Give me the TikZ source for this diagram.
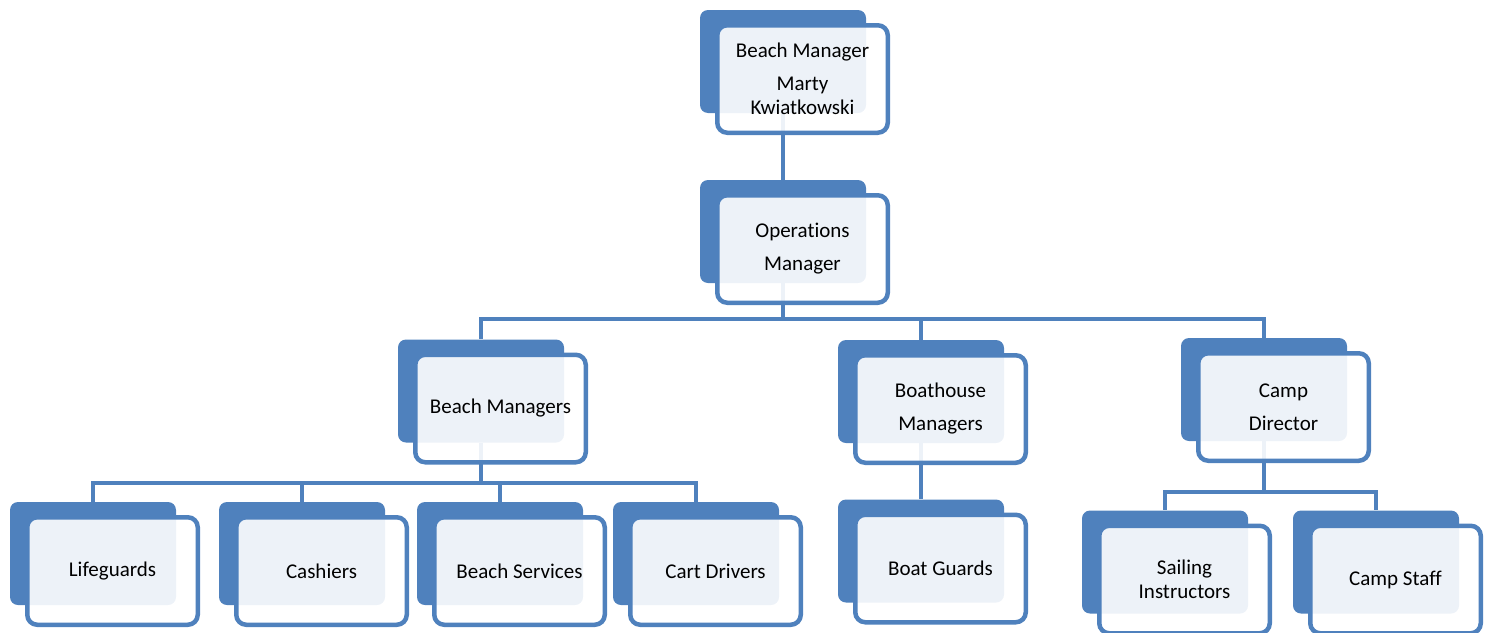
\documentclass[tikz,border=0pt]{standalone}
\usepackage{fontspec}
\setmainfont{Carlito}[Ligatures = NoCommon]
\definecolor{chartBlue}{HTML}{4F81BD}
\tikzstyle{backBox}=[shape = rectangle, rounded corners = 8pt, minimum width = 166pt, minimum height = 103pt, inner sep = 0pt, fill = chartBlue]
\tikzstyle{frontBox}=[shape = rectangle, rounded corners = 10pt, minimum width = 170.5pt, minimum height = 107.5pt, inner sep = 0pt, draw = chartBlue, line width = 4.5pt, fill = white, fill opacity = 0.9, text opacity = 1, align = center, font = \fontsize{21}{24}\selectfont, xshift = 19.5pt, yshift = -17.5pt]

\begin{document}
\begin{tikzpicture}[x = 1pt, y = -1pt]
\tikzstyle{orgLink}=[draw = chartBlue, line width = 4.5pt]
\useasboundingbox (0,0) rectangle (1485,632);
\node[backBox] (v0) at (783, 61.5) {};
\node[backBox] (v1) at (783, 231.5) {};
\node[backBox] (v2) at (481, 391) {};
\node[backBox] (v3) at (921, 391.5) {};
\node[backBox] (v4) at (1264, 389.5) {};
\node[backBox] (v5) at (93, 553.5) {};
\node[backBox] (v6) at (302, 553.5) {};
\node[backBox] (v7) at (500, 553.5) {};
\node[backBox] (v8) at (696, 553.5) {};
\node[backBox] (v9) at (921, 551) {};
\node[backBox] (v10) at (1165, 562) {};
\node[backBox] (v11) at (1376, 562) {};
\coordinate (b1) at (0, 319);
\coordinate (b2) at (0, 483);
\coordinate (b3) at (0, 492);
\draw[orgLink] (v0.south) -- (v1.north);
\draw[orgLink] (v1.south) -- (v1 |- b1) -| (v2.north);
\draw[orgLink] (v1 |- b1) -| (v3.north);
\draw[orgLink] (v1 |- b1) -| (v4.north);
\draw[orgLink] (v2.south) -- (v2 |- b2) -| (v5.north);
\draw[orgLink] (v2 |- b2) -| (v6.north);
\draw[orgLink] (v2 |- b2) -| (v7.north);
\draw[orgLink] (v2 |- b2) -| (v8.north);
\draw[orgLink] (v3.south) -- (v9.north);
\draw[orgLink] (v4.south) -- (v4 |- b3) -| (v10.north);
\draw[orgLink] (v4 |- b3) -| (v11.north);
\node[frontBox] (f0) at (v0) {Beach Manager\\[9pt]Marty\\Kwiatkowski};
\node[frontBox] (f1) at (v1) {Operations\\[9pt]Manager};
\node[frontBox] (f2) at (v2) {Beach Managers};
\node[frontBox] (f3) at (v3) {Boathouse\\[9pt]Managers};
\node[frontBox] (f4) at (v4) {Camp\\[9pt]Director};
\node[frontBox] (f5) at (v5) {Lifeguards};
\node[frontBox] (f6) at (v6) {Cashiers};
\node[frontBox] (f7) at (v7) {Beach Services};
\node[frontBox] (f8) at (v8) {Cart Drivers};
\node[frontBox] (f9) at (v9) {Boat Guards};
\node[frontBox] (f10) at (v10) {Sailing\\Instructors};
\node[frontBox] (f11) at (v11) {Camp Staff};
\end{tikzpicture}
\end{document}
